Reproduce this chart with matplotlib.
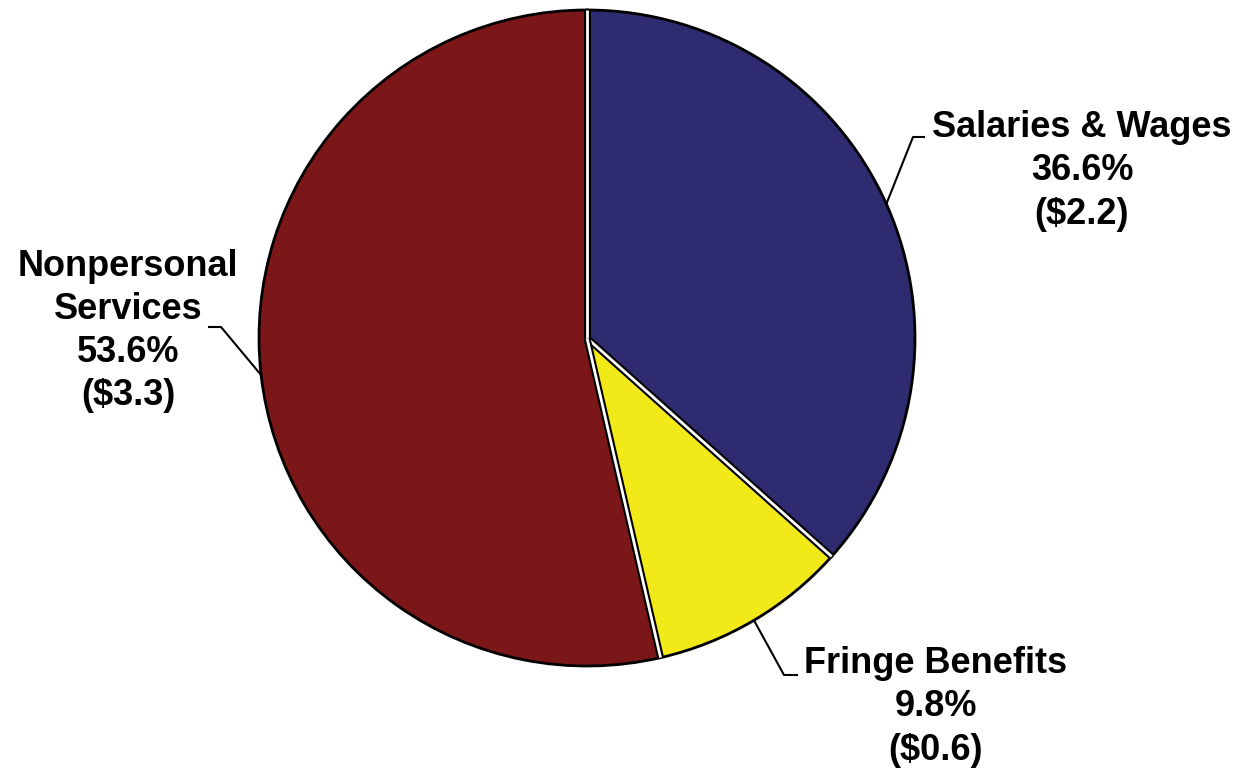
import numpy as np
import matplotlib.pyplot as plt

plt.rcParams['font.family'] = ['Liberation Sans', 'DejaVu Sans']

# budget shares
categories = ['Salaries & Wages', 'Fringe Benefits', 'Nonpersonal\nServices']
shares = [36.6, 9.8, 53.6]
amounts = ['$2.2', '$0.6', '$3.3']
colors = ['#2E2B70', '#F2E918', '#7B1719']

fig = plt.figure(figsize=(12.43, 7.7), dpi=100)
ax = fig.add_axes([0, 0, 1, 1])

cx, cy, r = 587, 432, 328
wedges, _ = ax.pie(shares, colors=colors, startangle=90, counterclock=False,
                   center=(cx, cy), radius=r, frame=True,
                   wedgeprops=dict(edgecolor='black', linewidth=2))
ax.set_xlim(0, 1243)
ax.set_ylim(0, 770)
ax.set_aspect('equal')
ax.axis('off')

# black edge with a thin white gap between neighbouring slices
for w in wedges:
    ang = np.deg2rad(w.theta1)
    xs = [cx, cx + r * np.cos(ang)]
    ys = [cy, cy + r * np.sin(ang)]
    ax.plot(xs, ys, color='black', lw=5, solid_capstyle='butt', zorder=5)
    ax.plot(xs, ys, color='white', lw=2, solid_capstyle='butt', zorder=5)

# label layout: elbow of the leader, end of the leader, text centre
layout = [
    ((913, 633), (924, 633), (1082, 599)),
    ((784, 95), (797, 95), (936, 63)),
    ((221, 443), (209, 443), (128, 439)),
]

for w, cat, pct, amt, (elbow, end, tpos) in zip(wedges, categories, shares, amounts, layout):
    mid = np.deg2rad((w.theta1 + w.theta2) / 2)
    px, py = cx + r * np.cos(mid), cy + r * np.sin(mid)
    ax.plot([px, elbow[0], end[0]], [py, elbow[1], end[1]], color='black', lw=1.5, zorder=6)
    ax.text(tpos[0], tpos[1], f'{cat}\n{pct}%\n({amt})', ha='center', va='center',
            fontsize=26, fontweight='bold', linespacing=1.3, zorder=7)

fig.savefig('out.png', dpi=100)
